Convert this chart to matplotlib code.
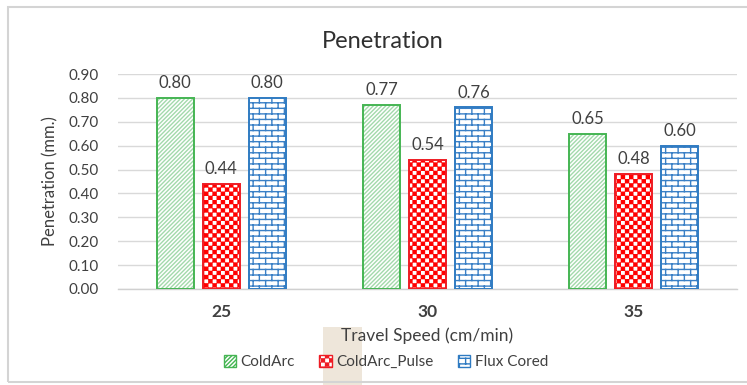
import warnings
import numpy as np
import matplotlib
matplotlib.use("Agg")
import matplotlib.pyplot as plt
import matplotlib.hatch as mhatch
from matplotlib.path import Path
from matplotlib.patches import Rectangle

warnings.filterwarnings("ignore")

# ---------------- data ----------------
categories = ["25", "30", "35"]
series_names = ["ColdArc", "ColdArc_Pulse", "Flux Cored"]
cold_arc = [0.80, 0.77, 0.65]
cold_arc_pulse = [0.44, 0.54, 0.48]
flux_cored = [0.80, 0.76, 0.60]
y_ticks = [0.0, 0.1, 0.2, 0.3, 0.4, 0.5, 0.6, 0.7, 0.8, 0.9]

title = "Penetration"
x_label = "Travel Speed (cm/min)"
y_label = "Penetration (mm.)"


# ---------------- custom hatches ----------------
class CheckerHatch(mhatch.HatchPatternBase):
    N = 24

    def __init__(self, hatch, density):
        n = self.N
        if "c" in hatch:
            self.cells = [(i, j) for i in range(n) for j in range(n) if (i + j) % 2 == 0]
        else:
            self.cells = []
        self.num_vertices = len(self.cells) * 5

    def set_vertices_and_codes(self, vertices, codes):
        s = 1.0 / self.N
        m = s * 0.13
        k = 0
        for (i, j) in self.cells:
            x0, y0 = i * s + m, j * s + m
            x1, y1 = (i + 1) * s - m, (j + 1) * s - m
            vertices[k:k + 5] = [(x0, y0), (x1, y0), (x1, y1), (x0, y1), (x0, y0)]
            codes[k:k + 5] = [Path.MOVETO, Path.LINETO, Path.LINETO, Path.LINETO, Path.CLOSEPOLY]
            k += 5


class BrickHatch(mhatch.HatchPatternBase):
    R = 18
    C = 8

    def __init__(self, hatch, density):
        self.segs = []
        if "b" in hatch:
            R, C = self.R, self.C
            for r in range(R):
                y = (r + 0.5) / R
                self.segs.append(((0.0, y), (1.0, y)))
            for r in range(-1, R):
                off = 0.5 * (r % 2) + 0.25
                ya = (r + 0.5) / R
                yb = (r + 1.5) / R
                for c in range(C):
                    x = (c + off) / C
                    self.segs.append(((x, ya), (x, yb)))
        self.num_vertices = len(self.segs) * 2

    def set_vertices_and_codes(self, vertices, codes):
        k = 0
        for a, b in self.segs:
            vertices[k] = a
            vertices[k + 1] = b
            codes[k] = Path.MOVETO
            codes[k + 1] = Path.LINETO
            k += 2


mhatch._hatch_types.append(CheckerHatch)
mhatch._hatch_types.append(BrickHatch)

plt.rcParams["font.family"] = ["Lato", "DejaVu Sans"]
plt.rcParams["hatch.linewidth"] = 1.0

# ---------------- figure ----------------
fig = plt.figure(figsize=(7.47, 3.85), dpi=100)
fig.patch.set_facecolor("white")

# chart frame
fig.add_artist(Rectangle((8 / 747, 1 - 382 / 385), 760 / 747, 375 / 385,
                         transform=fig.transFigure, facecolor="none",
                         edgecolor="#d4d4d4", linewidth=1.5))
# beige artifact
fig.add_artist(Rectangle((323 / 747, 0), 39 / 747, 58 / 385,
                         transform=fig.transFigure, facecolor="#eee6da",
                         edgecolor="none", zorder=0))

ax = fig.add_axes([118 / 747, 1 - 289 / 385, (737 - 118) / 747, (289 - 74) / 385])

x = np.arange(len(categories))
w = 0.18
step = 0.223

styles = [
    dict(vals=cold_arc, edge="#45b553", hatch_col="#a3d9ab", hatch="////////"),
    dict(vals=cold_arc_pulse, edge="#ee1c24", hatch_col="#ff0000", hatch="c"),
    dict(vals=flux_cored, edge="#2f7bc2", hatch_col="#3a80c6", hatch="b"),
]

handles = []
for i, st in enumerate(styles):
    pos = x + (i - 1) * step
    ax.bar(pos, st["vals"], width=w, facecolor="white", edgecolor=st["hatch_col"],
           hatch=st["hatch"], linewidth=0, zorder=2)
    ax.bar(pos, st["vals"], width=w, facecolor="none", edgecolor=st["edge"],
           linewidth=1.4, zorder=3)
    for xp, v in zip(pos, st["vals"]):
        ax.annotate(f"{v:.2f}", (xp, v), xytext=(0, 5), textcoords="offset points",
                    ha="center", va="bottom", fontsize=12, color="#404040")
    h = Rectangle((0, 0), 1, 1, facecolor="white", edgecolor=st["edge"],
                  hatch=st["hatch"], linewidth=1.0)
    handles.append(h)

ax.set_xlim(-0.5, len(categories) - 0.5)
ax.set_ylim(0, 0.9)
ax.set_yticks(y_ticks)
ax.set_yticklabels([f"{t:.2f}" for t in y_ticks], fontsize=11, color="#404040")
ax.tick_params(axis="both", length=0)
ax.set_xticks(x)
ax.set_xticklabels(categories, fontsize=12.5, fontweight="bold", color="#404040")
ax.tick_params(axis="y", pad=14)
ax.tick_params(axis="x", pad=11)
ax.yaxis.grid(True, color="#d9d9d9", linewidth=1.0, zorder=0)
ax.set_axisbelow(True)
for sp in ["top", "right", "left"]:
    ax.spines[sp].set_visible(False)
ax.spines["bottom"].set_color("#d0d0d0")
ax.spines["bottom"].set_linewidth(1.0)

ax.set_ylabel(y_label, fontsize=12, color="#404040", labelpad=7)
ax.set_xlabel(x_label, fontsize=12.5, color="#404040", labelpad=5)
fig.text(383 / 747, 1 - 42 / 385, title, ha="center", va="center",
         fontsize=17, color="#303030")

leg = fig.legend(handles, series_names, loc="center", bbox_to_anchor=(386 / 747, 1 - 362 / 385),
                 ncol=3, frameon=False, fontsize=11, handlelength=0.8, handleheight=0.8,
                 handletextpad=0.3, columnspacing=1.6, labelcolor="#404040")

fig.savefig("out.png", dpi=100, facecolor="white")
